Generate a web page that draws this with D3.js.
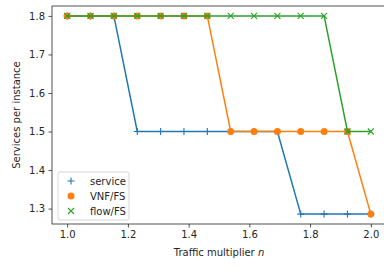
<!DOCTYPE html>
<html>
<head>
<meta charset="utf-8">
<script src="https://cdn.jsdelivr.net/npm/d3@7"></script>
<style>
  body { margin: 0; background: #fff; }
  svg { display: block; font-family: "DejaVu Sans", sans-serif; }
</style>
</head>
<body>
<div id="chart"></div>
<script>
const xValues = [1.0, 1.0769, 1.1538, 1.2308, 1.3077, 1.3846, 1.4615, 1.5385, 1.6154, 1.6923, 1.7692, 1.8462, 1.9231, 2.0];
const serviceValues = [1.8, 1.8, 1.8, 1.5, 1.5, 1.5, 1.5, 1.5, 1.5, 1.5, 1.2857, 1.2857, 1.2857, 1.2857];
const vnfValues = [1.8, 1.8, 1.8, 1.8, 1.8, 1.8, 1.8, 1.5, 1.5, 1.5, 1.5, 1.5, 1.5, 1.2857];
const flowValues = [1.8, 1.8, 1.8, 1.8, 1.8, 1.8, 1.8, 1.8, 1.8, 1.8, 1.8, 1.8, 1.5, 1.5];
const xTicks = [1.0, 1.2, 1.4, 1.6, 1.8, 2.0];
const yTicks = [1.3, 1.4, 1.5, 1.6, 1.7, 1.8];

const series = [
  { name: 'service', values: serviceValues, color: '#1f77b4', marker: 'plus' },
  { name: 'VNF/FS', values: vnfValues, color: '#ff7f0e', marker: 'circle' },
  { name: 'flow/FS', values: flowValues, color: '#2ca02c', marker: 'x' }
];

const width = 384, height = 269;
const margin = { top: 6, right: -2, bottom: 45, left: 52 };

const svg = d3.select('#chart').append('svg')
  .attr('width', width)
  .attr('height', height);

const x = d3.scaleLinear().domain([0.95, 2.05]).range([margin.left, width - margin.right]);
const yMin = 1.2857 - 0.0257, yMax = 1.8 + 0.0257;
const y = d3.scaleLinear().domain([yMin, yMax]).range([height - margin.bottom, margin.top]);

const fmt = d3.format('.1f');

const xAxis = svg.append('g')
  .attr('transform', `translate(0,${height - margin.bottom})`)
  .call(d3.axisBottom(x).tickValues(xTicks).tickFormat(fmt).tickSize(3.5).tickPadding(3.5));

const yAxis = svg.append('g')
  .attr('transform', `translate(${margin.left},0)`)
  .call(d3.axisLeft(y).tickValues(yTicks).tickFormat(fmt).tickSize(3.5).tickPadding(3.5));

[xAxis, yAxis].forEach(a => {
  a.select('.domain').remove();
  a.selectAll('text').attr('font-size', 10).attr('fill', '#262626').attr('font-family', '"DejaVu Sans", sans-serif');
  a.selectAll('line').attr('stroke', '#262626').attr('stroke-width', 0.8);
});

// spines
svg.append('rect')
  .attr('x', margin.left)
  .attr('y', margin.top)
  .attr('width', width - margin.right - margin.left)
  .attr('height', height - margin.bottom - margin.top)
  .attr('fill', 'none')
  .attr('stroke', '#262626')
  .attr('stroke-width', 0.8);

const line = d3.line()
  .x(d => x(d[0]))
  .y(d => y(d[1]));

const drawMarker = (g, type, cx, cy, color) => {
  if (type === 'circle') {
    g.append('circle').attr('cx', cx).attr('cy', cy).attr('r', 3.5).attr('fill', color);
  } else if (type === 'plus') {
    g.append('path').attr('d', `M${cx - 3.5},${cy}H${cx + 3.5}M${cx},${cy - 3.5}V${cy + 3.5}`)
      .attr('stroke', color).attr('stroke-width', 1.1);
  } else {
    g.append('path').attr('d', `M${cx - 3},${cy - 3}L${cx + 3},${cy + 3}M${cx - 3},${cy + 3}L${cx + 3},${cy - 3}`)
      .attr('stroke', color).attr('stroke-width', 1.1);
  }
};

const plot = svg.append('g');
series.forEach(s => {
  const pts = xValues.map((v, i) => [v, s.values[i]]);
  plot.append('path')
    .datum(pts)
    .attr('d', line)
    .attr('fill', 'none')
    .attr('stroke', s.color)
    .attr('stroke-width', 1.5);
  const mg = plot.append('g');
  pts.forEach(p => drawMarker(mg, s.marker, x(p[0]), y(p[1]), s.color));
});

// legend
const legend = svg.append('g').attr('transform', 'translate(58,172)');
legend.append('rect')
  .attr('width', 71).attr('height', 48).attr('rx', 2)
  .attr('fill', '#fff').attr('fill-opacity', 0.8)
  .attr('stroke', '#ccc').attr('stroke-width', 0.8);
series.forEach((s, i) => {
  const cy = 9 + i * 15;
  drawMarker(legend, s.marker, 13, cy, s.color);
  legend.append('text')
    .attr('x', 32).attr('y', cy)
    .attr('dy', '0.35em')
    .attr('font-size', 10)
    .attr('fill', '#262626')
    .text(s.name);
});

// axis labels
const xl = svg.append('text')
  .attr('x', (margin.left + width - margin.right) / 2)
  .attr('y', 256)
  .attr('text-anchor', 'middle')
  .attr('font-size', 10)
  .attr('fill', '#262626');
xl.append('tspan').text('Traffic multiplier ');
xl.append('tspan').attr('font-style', 'italic').text('n');

svg.append('text')
  .attr('transform', `translate(20,${(margin.top + height - margin.bottom) / 2}) rotate(-90)`)
  .attr('text-anchor', 'middle')
  .attr('font-size', 10)
  .attr('fill', '#262626')
  .text('Services per instance');
</script>
</body>
</html>
